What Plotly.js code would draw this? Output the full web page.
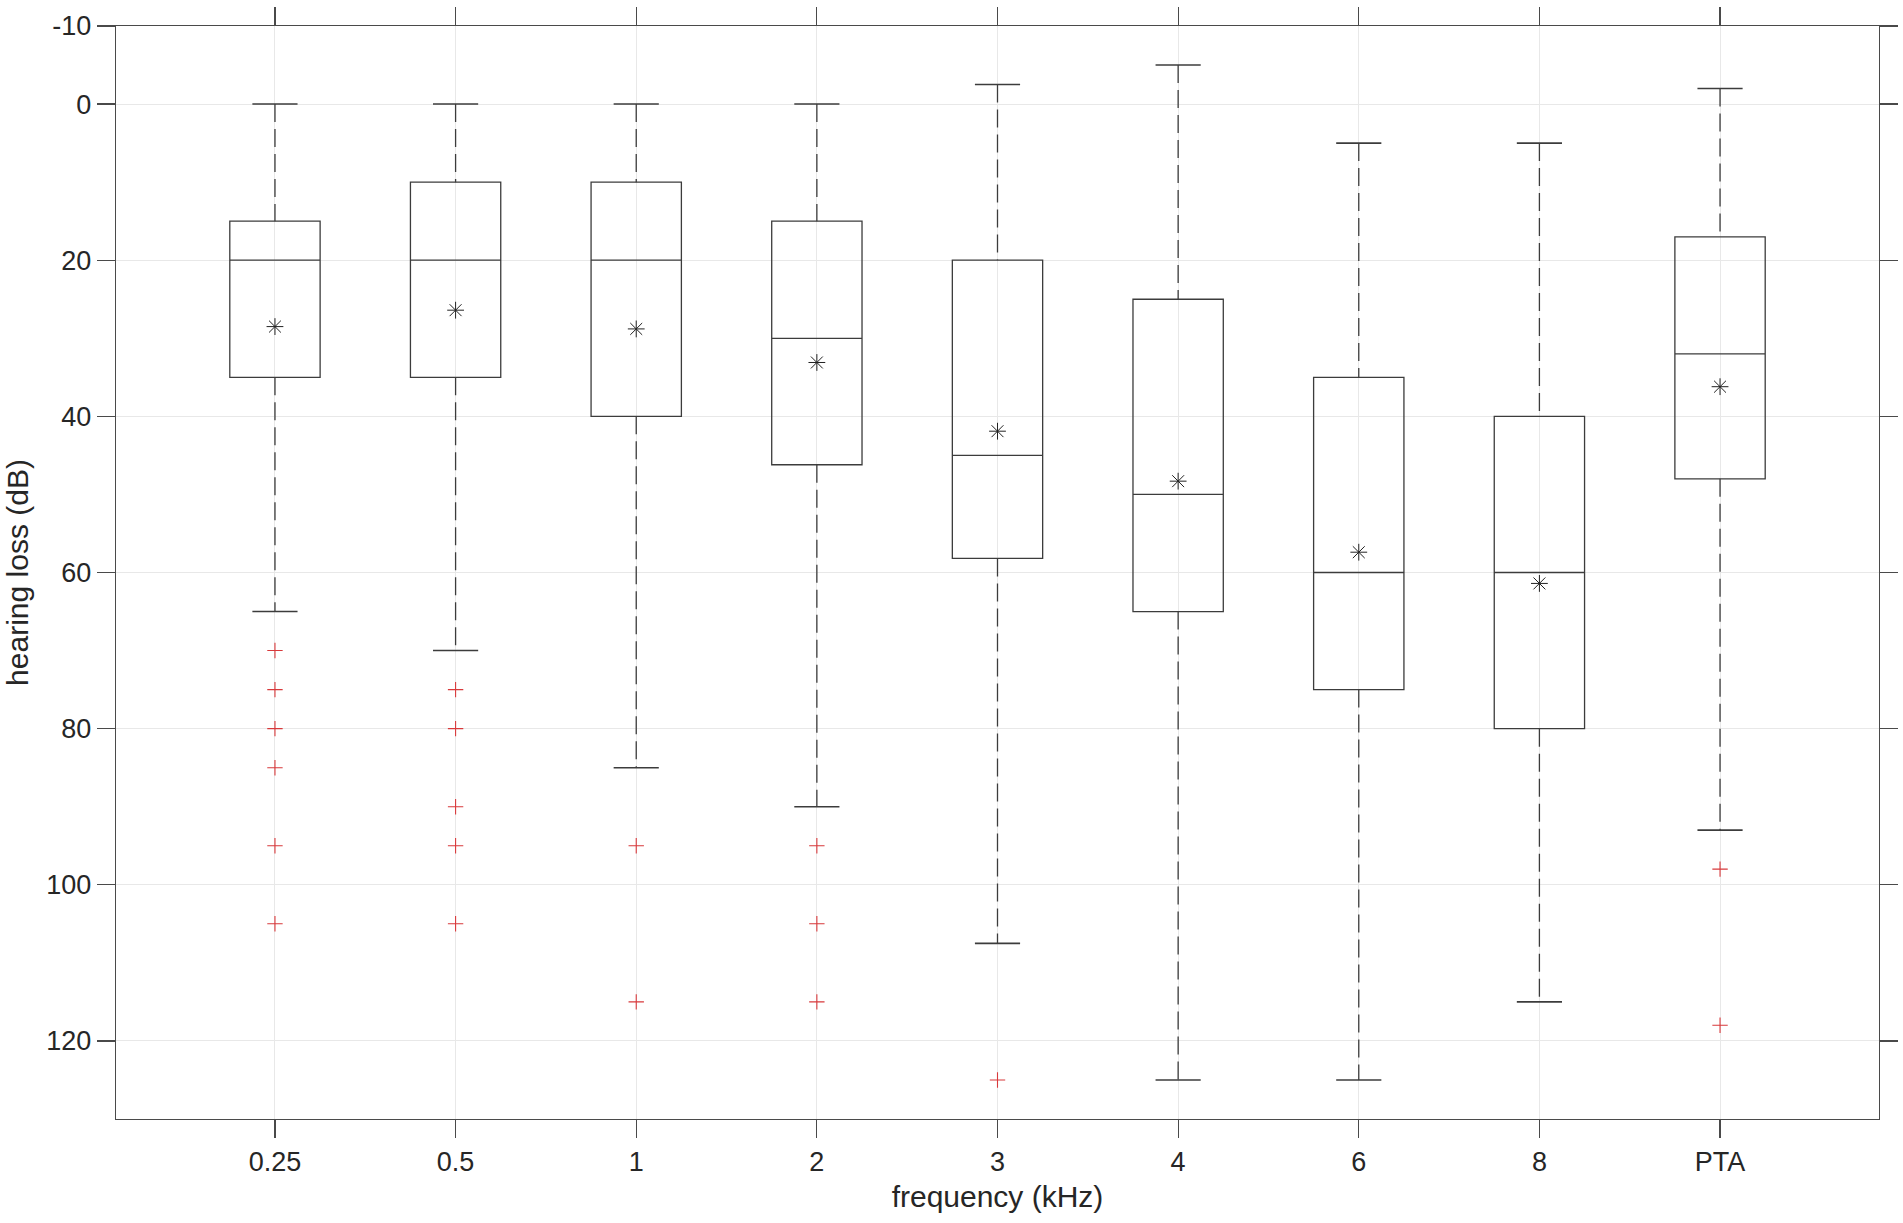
<!DOCTYPE html>
<html>
<head>
<meta charset="utf-8">
<script src="https://cdn.plot.ly/plotly-3.0.1.min.js"></script>
<style>
  html, body { margin: 0; padding: 0; background: #ffffff; }
  #chart { width: 1903px; height: 1223px; }
</style>
</head>
<body>
<div id="chart"></div>
<script>
// ---- data (hearing loss, dB) ----
const categories = ['0.25', '0.5', '1', '2', '3', '4', '6', '8', 'PTA'];
const upperWhisker = [0, 0, 0, 0, -2.5, -5, 5, 5, -2];
const q1 = [15, 10, 10, 15, 20, 25, 35, 40, 17];
const median = [20, 20, 20, 30, 45, 50, 60, 60, 32];
const q3 = [35, 35, 40, 46.2, 58.2, 65, 75, 80, 48];
const lowerWhisker = [65, 70, 85, 90, 107.5, 125, 125, 115, 93];
const means = [28.5, 26.4, 28.8, 33.1, 41.9, 48.3, 57.4, 61.4, 36.2];
const outliers = [
  [70, 75, 80, 85, 95, 105],
  [75, 80, 90, 95, 105],
  [95, 115],
  [95, 105, 115],
  [125],
  [],
  [],
  [],
  [98, 118]
];
const yTicks = [-10, 0, 20, 40, 60, 80, 100, 120];

// ---- build traces ----
const idx = categories.map((c, i) => i);
const lineColor = '#3c3c3c';
const boxW = 0.5;
const capHalf = 0.125;

const boxTrace = {
  type: 'box',
  x: idx,
  q1: q1,
  median: median,
  q3: q3,
  lowerfence: q1,
  upperfence: q3,
  width: boxW,
  whiskerwidth: 0,
  boxpoints: false,
  boxmean: false,
  fillcolor: 'rgba(0,0,0,0)',
  line: { color: lineColor, width: 1.3 },
  hoverinfo: 'skip',
  showlegend: false
};

const wx = [], wy = [];
const cx = [], cy = [];
idx.forEach(i => {
  wx.push(i, i, null, i, i, null);
  wy.push(upperWhisker[i], q1[i], null, q3[i], lowerWhisker[i], null);
  cx.push(i - capHalf, i + capHalf, null, i - capHalf, i + capHalf, null);
  cy.push(upperWhisker[i], upperWhisker[i], null, lowerWhisker[i], lowerWhisker[i], null);
});

const whiskerTrace = {
  type: 'scatter', mode: 'lines', x: wx, y: wy,
  line: { color: lineColor, width: 1.3, dash: '18px,7px' },
  hoverinfo: 'skip', showlegend: false
};
const capTrace = {
  type: 'scatter', mode: 'lines', x: cx, y: cy,
  line: { color: lineColor, width: 1.6 },
  hoverinfo: 'skip', showlegend: false
};

const ox = [], oy = [];
outliers.forEach((arr, i) => arr.forEach(v => { ox.push(i); oy.push(v); }));
const outlierTrace = {
  type: 'scatter', mode: 'markers', x: ox, y: oy,
  marker: { symbol: 'cross-thin-open', size: 11, line: { color: '#d8393b', width: 1.1 }, color: '#d8393b' },
  hoverinfo: 'skip', showlegend: false
};

const meanTrace = {
  type: 'scatter', mode: 'markers', x: idx, y: means,
  marker: { symbol: 'asterisk-open', size: 14, line: { color: '#222222', width: 1 }, color: '#222222' },
  hoverinfo: 'skip', showlegend: false
};

const fontFamily = 'Liberation Sans, Arial, Helvetica, sans-serif';

const layout = {
  width: 1903,
  height: 1223,
  paper_bgcolor: '#ffffff',
  plot_bgcolor: '#ffffff',
  margin: { l: 116, r: 24, t: 26, b: 104 },
  showlegend: false,
  font: { family: fontFamily, size: 27, color: '#262626' },
  xaxis: {
    range: [-0.88, 8.88],
    tickmode: 'array',
    tickvals: idx,
    ticktext: categories,
    showgrid: true,
    gridcolor: '#e8e8e8',
    gridwidth: 1,
    zeroline: false,
    showline: true,
    linecolor: '#4a4a4a',
    linewidth: 1.3,
    mirror: 'ticks',
    ticks: 'outside',
    ticklen: 18,
    tickwidth: 1.2,
    tickcolor: '#4a4a4a',
    tickfont: { family: fontFamily, size: 27, color: '#262626' },
    title: { text: 'frequency (kHz)', font: { family: fontFamily, size: 30, color: '#262626' }, standoff: 10 }
  },
  yaxis: {
    range: [130, -10],
    tickmode: 'array',
    tickvals: yTicks,
    ticktext: yTicks.map(String),
    showgrid: true,
    gridcolor: '#e8e8e8',
    gridwidth: 1,
    zeroline: false,
    showline: true,
    linecolor: '#4a4a4a',
    linewidth: 1.3,
    mirror: 'ticks',
    ticks: 'outside',
    ticklen: 18,
    tickwidth: 1.2,
    tickcolor: '#4a4a4a',
    tickfont: { family: fontFamily, size: 27, color: '#262626' },
    title: { text: 'hearing loss (dB)', font: { family: fontFamily, size: 30, color: '#262626' }, standoff: 8 }
  }
};

Plotly.newPlot('chart', [boxTrace, whiskerTrace, capTrace, outlierTrace, meanTrace], layout, { displayModeBar: false, staticPlot: true });
</script>
</body>
</html>
